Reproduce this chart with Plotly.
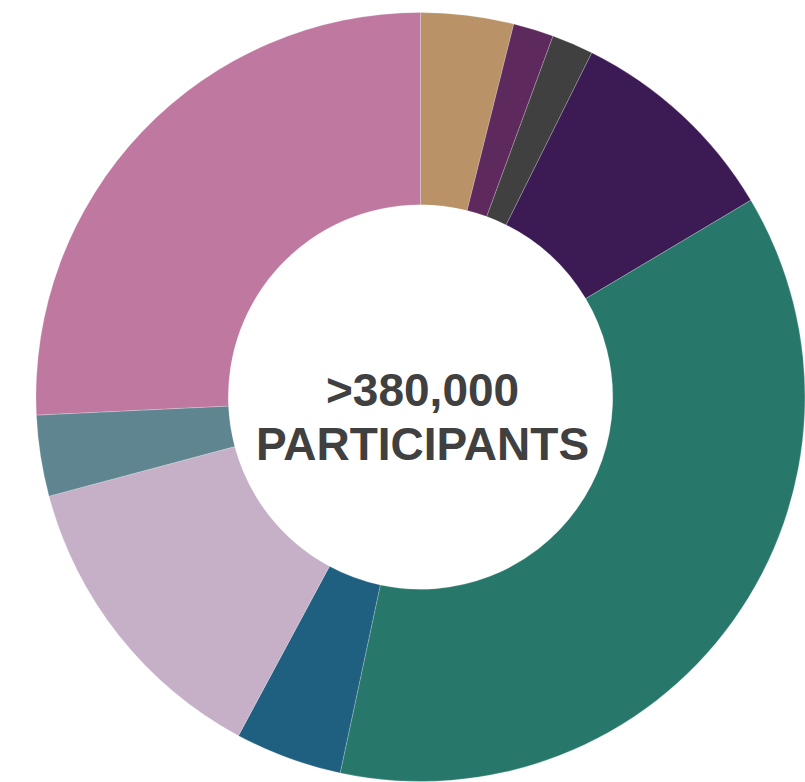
import plotly.graph_objects as go

labels = ["Group A", "Group B", "Group C", "Group D", "Group E",
          "Group F", "Group G", "Group H", "Group I"]
values = [3.9, 1.7, 1.75, 9.1, 36.9, 4.5, 13.0, 3.4, 25.75]
colors = ["#B99367", "#5E2A5E", "#404040", "#3C1A53", "#27786A",
          "#1F6080", "#C6B0C8", "#5E8590", "#BF789F"]
center_lines = [">380,000", "PARTICIPANTS"]

W, H = 805, 782

def px_x(x):
    return x / W

def px_y(y):
    return 1 - y / H

fig = go.Figure(go.Pie(
    labels=labels,
    values=values,
    hole=0.5,
    sort=False,
    direction="clockwise",
    rotation=0,
    textinfo="none",
    hoverinfo="label+percent",
    marker=dict(colors=colors, line=dict(color="rgba(255,255,255,0.35)", width=0.6)),
    domain=dict(x=[px_x(36), 1.0], y=[0.0, px_y(12)]),
    showlegend=False,
))

for txt, yc in zip(center_lines, [390, 444]):
    fig.add_annotation(
        text=txt,
        x=px_x(422), y=px_y(yc),
        xref="paper", yref="paper",
        xanchor="center", yanchor="middle",
        showarrow=False,
        font=dict(family="Liberation Sans, Arial, sans-serif", size=46,
                  color="#404040", weight="bold"),
        align="center",
    )

fig.update_layout(
    width=W, height=H,
    margin=dict(l=0, r=0, t=0, b=0),
    paper_bgcolor="white",
    plot_bgcolor="white",
)

fig.write_html(
    "out.html",
    config={"displayModeBar": False},
    post_script="document.body.style.margin='0';document.body.style.overflow='hidden';",
)
